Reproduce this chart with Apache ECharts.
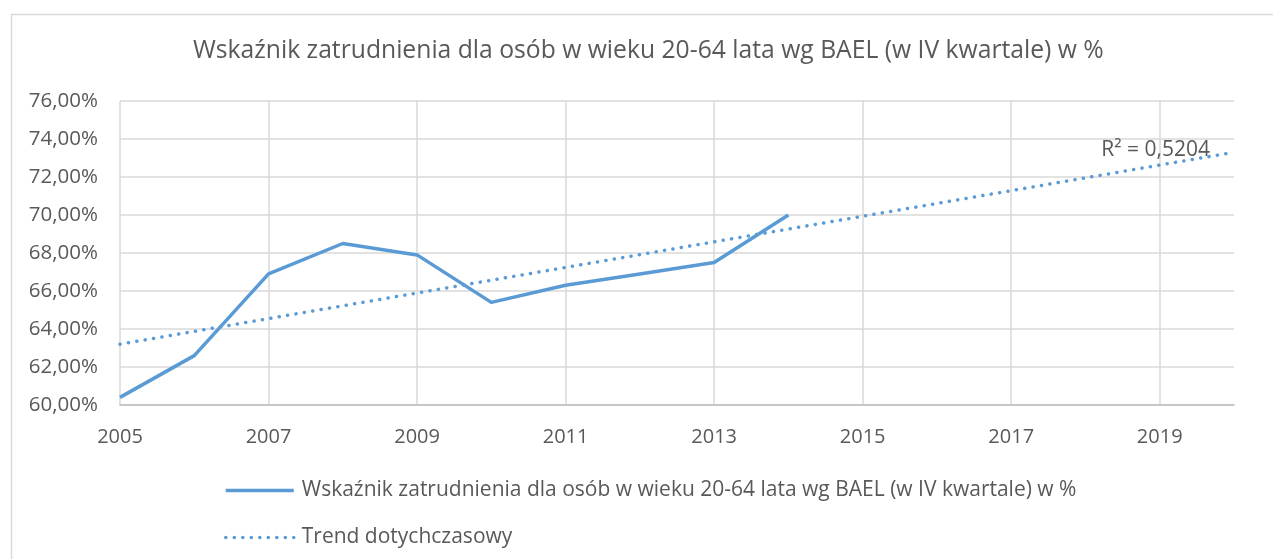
<!DOCTYPE html>
<html>
<head>
<meta charset="utf-8">
<script src="https://cdn.jsdelivr.net/npm/echarts@6/dist/echarts.min.js"></script>
<style>
  html, body { margin: 0; padding: 0; background: #fff; }
  #chart { width: 1273px; height: 559px; }
</style>
</head>
<body>
<div id="chart"></div>
<script>
// Employment rate, persons aged 20-64 (LFS, Q4), %
const years = [2005, 2006, 2007, 2008, 2009, 2010, 2011, 2012, 2013, 2014];
const rates = [60.4, 62.6, 66.9, 68.5, 67.9, 65.4, 66.3, 66.9, 67.5, 70.0];

// Linear trend line end points and its fit statistic
const trendYears = [2005, 2020];
const trendRates = [63.2, 73.3];
const trendR2 = '0,5204';

const seriesName = 'Wskaźnik zatrudnienia dla osób w wieku 20-64 lata wg BAEL (w IV kwartale) w %';
const trendName = 'Trend dotychczasowy';
const titleText = 'Wskaźnik zatrudnienia dla osób w wieku 20-64 lata wg BAEL (w IV kwartale) w %';

const FONT = 'Open Sans';
const TEXT = '#595959';
const BLUE = '#5B9BD5';
const GRID = '#d9d9d9';

const chart = echarts.init(document.getElementById('chart'), null, { renderer: 'canvas' });

const trendData = trendYears.map((y, i) => [y, trendRates[i]]);
const lastTrend = trendData[trendData.length - 1];

chart.setOption({
  animation: false,
  backgroundColor: '#fff',
  textStyle: { fontFamily: FONT },
  graphic: [{
    type: 'rect',
    left: 9, top: 12,
    shape: { width: 1400, height: 700 },
    style: { fill: 'none', stroke: GRID, lineWidth: 1.5 },
    silent: true,
    z: -1
  }],
  title: {
    text: titleText,
    left: 188,
    top: 33,
    textStyle: { fontFamily: FONT, fontSize: 24.7, fontWeight: 'normal', color: TEXT }
  },
  grid: { left: 120, right: 39, top: 101, bottom: 154, containLabel: false },
  legend: {
    orient: 'vertical',
    left: 219,
    top: 475,
    itemGap: 26,
    itemWidth: 68,
    itemHeight: 14,
    itemStyle: { opacity: 0 },
    lineStyle: { width: 3.5 },
    textStyle: { fontFamily: FONT, fontSize: 21, color: TEXT, padding: [0, 0, 0, 3] },
    data: [seriesName, trendName]
  },
  xAxis: {
    type: 'value',
    min: 2005,
    max: 2020,
    interval: 2,
    axisLine: { show: true, lineStyle: { color: '#bfbfbf', width: 1.5 } },
    axisTick: { show: false },
    splitLine: { show: true, showMaxLine: false, lineStyle: { color: GRID, width: 1.5 } },
    axisLabel: {
      showMaxLabel: false,
      margin: 22,
      fontFamily: FONT, fontSize: 20, color: TEXT,
      formatter: v => String(v)
    }
  },
  yAxis: {
    type: 'value',
    min: 60,
    max: 76,
    interval: 2,
    axisLine: { show: false },
    axisTick: { show: false },
    splitLine: { show: true, lineStyle: { color: GRID, width: 1.5 } },
    axisLabel: {
      margin: 22,
      fontFamily: FONT, fontSize: 20.5, color: TEXT,
      formatter: v => v.toFixed(2).replace('.', ',') + '%'
    }
  },
  series: [
    {
      name: seriesName,
      type: 'line',
      data: years.map((y, i) => [y, rates[i]]),
      symbol: 'none',
      color: BLUE,
      lineStyle: { color: BLUE, width: 3.5, join: 'round' },
      z: 3
    },
    {
      name: trendName,
      type: 'line',
      data: trendData,
      symbol: 'none',
      color: BLUE,
      lineStyle: { color: BLUE, width: 3.5, type: [0.1, 8.4], cap: 'round' },
      markPoint: {
        symbol: 'circle',
        symbolSize: 0,
        silent: true,
        data: [{ coord: lastTrend }],
        label: {
          show: true,
          position: 'left',
          distance: 0,
          offset: [-24, -2],
          formatter: 'R² = ' + trendR2,
          color: TEXT,
          fontFamily: FONT,
          fontSize: 21
        }
      },
      z: 2
    }
  ]
});
</script>
</body>
</html>
